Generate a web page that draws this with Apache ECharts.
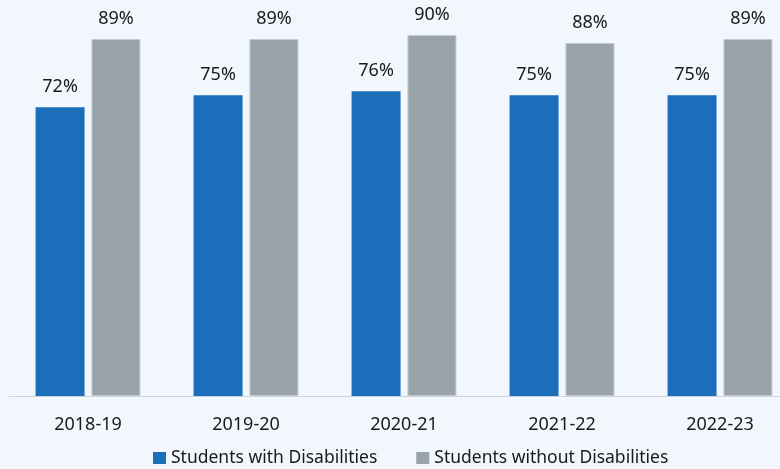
<!DOCTYPE html>
<html>
<head>
<meta charset="utf-8">
<script src="https://cdn.jsdelivr.net/npm/echarts@6/dist/echarts.min.js"></script>
<style>
  html, body { margin: 0; padding: 0; background: #f2f6fd; }
  #chart { width: 780px; height: 469px; }
</style>
</head>
<body>
<div id="chart"></div>
<script>
// School years on the category axis
const years = ['2018-19', '2019-20', '2020-21', '2021-22', '2022-23'];
// Percentages per group
const withDisabilities = [72, 75, 76, 75, 75];
const withoutDisabilities = [89, 89, 90, 88, 89];
const seriesNames = ['Students with Disabilities', 'Students without Disabilities'];

const FONT = '"Noto Sans", "Open Sans", sans-serif';
const chart = echarts.init(document.getElementById('chart'));

const labelStyle = {
  show: true,
  position: 'top',
  distance: 11,
  formatter: p => p.value + '%',
  fontFamily: FONT,
  fontSize: 18,
  color: '#1a1a1a'
};

chart.setOption({
  backgroundColor: '#f2f6fd',
  animation: false,
  // plot area runs slightly past the right edge of the canvas
  grid: {
    left: 9, width: 790, top: 35, height: 361,
    containLabel: false,
    outerBoundsMode: 'none'
  },
  legend: {
    left: 153,
    top: 449,
    padding: 0,
    itemWidth: 13,
    itemHeight: 12,
    itemGap: 39,
    icon: 'rect',
    itemStyle: { borderWidth: 0 },
    textStyle: { fontFamily: FONT, fontSize: 17.5, color: '#1a1a1a' },
    data: seriesNames
  },
  xAxis: {
    type: 'category',
    data: years,
    axisLine: { show: true, lineStyle: { color: '#cfd4da', width: 1 } },
    axisTick: { show: false },
    axisLabel: { margin: 20, fontFamily: FONT, fontSize: 18, color: '#1a1a1a' }
  },
  yAxis: {
    type: 'value',
    min: 0,
    max: 90,
    show: false,
    splitLine: { show: false }
  },
  series: [
    {
      name: seriesNames[0],
      type: 'bar',
      data: withDisabilities,
      barWidth: 49,
      barGap: '14%',
      itemStyle: { color: '#1b6fba' },
      label: labelStyle
    },
    {
      name: seriesNames[1],
      type: 'bar',
      data: withoutDisabilities,
      barWidth: 49,
      barGap: '14%',
      itemStyle: { color: '#99a3aa', borderColor: '#c3cad0', borderWidth: 1 },
      label: labelStyle
    }
  ]
});
</script>
</body>
</html>
